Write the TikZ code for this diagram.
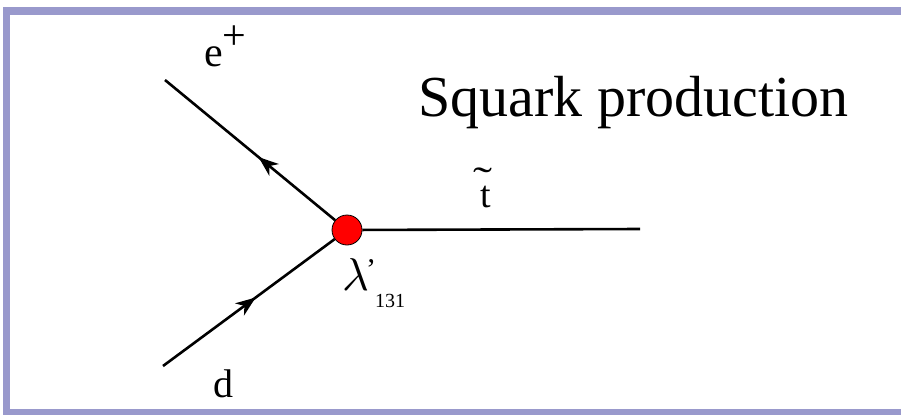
\documentclass[tikz,border=0pt]{standalone}
\usepackage{fontspec}
\setmainfont{Liberation Serif}
\usetikzlibrary{decorations.markings,arrows.meta}
\definecolor{framecol}{RGB}{153,153,204}
\definecolor{dotred}{RGB}{255,0,0}
\tikzset{
  fermion/.style={line width=2.6pt,
    postaction={decorate,decoration={markings,
      mark=at position #1 with {\arrow{Stealth[length=20pt,width=15pt,inset=6pt]}}}}},
  fermion/.default=0.5,
  plainline/.style={line width=2.6pt},
  framebar/.style={fill=framecol,draw=none},
  lbl/.style={inner sep=0pt,anchor=base},
}
\begin{document}
\begin{tikzpicture}[x=1pt,y=-1pt]
\useasboundingbox (0,0) rectangle (901,418);
% frame
\fill[framebar] (3,7) rectangle (901,15);
\fill[framebar] (3,7) rectangle (10,415);
\fill[framebar] (3,409) rectangle (901,415);
% vertex and ends
\coordinate (eend) at (165,80);
\coordinate (dend) at (163,366);
\coordinate (tend) at (640,229);
\node[circle,minimum size=30pt,inner sep=0pt,fill=dotred,draw=black,line width=0.8pt] (v) at (347,230) {};
\draw[fermion=0.45] (v) -- (eend);
\draw[fermion=0.54] (dend) -- (v);
\draw[plainline] (v) -- (tend);
% labels
\node[lbl,anchor=base west] (eplus) at (204,66) {\fontsize{42}{44}\selectfont e\raisebox{0.4em}{+}};
\node[lbl] (dlab) at (223,397) {\fontsize{40}{42}\selectfont d};
\node[lbl] (tlab) at (486,207) {\fontsize{38}{40}\selectfont t};
\node[lbl] (tilde) at (483,193) {\fontsize{38}{40}\selectfont\scalebox{1.5}[1]{˜}};
\node[lbl,anchor=base west] (lam) at (342,290) {\scalebox{4.6}{$\lambda$}};
\node[lbl,anchor=base west] (prime) at (366,279) {\fontsize{30}{32}\selectfont ’};
\node[lbl,anchor=base west] (sub) at (375,307) {\fontsize{20}{22}\selectfont 131};
\node[lbl,anchor=base west] (title) at (418,116) {\fontsize{58}{60}\selectfont Squark production};
\end{tikzpicture}
\end{document}
